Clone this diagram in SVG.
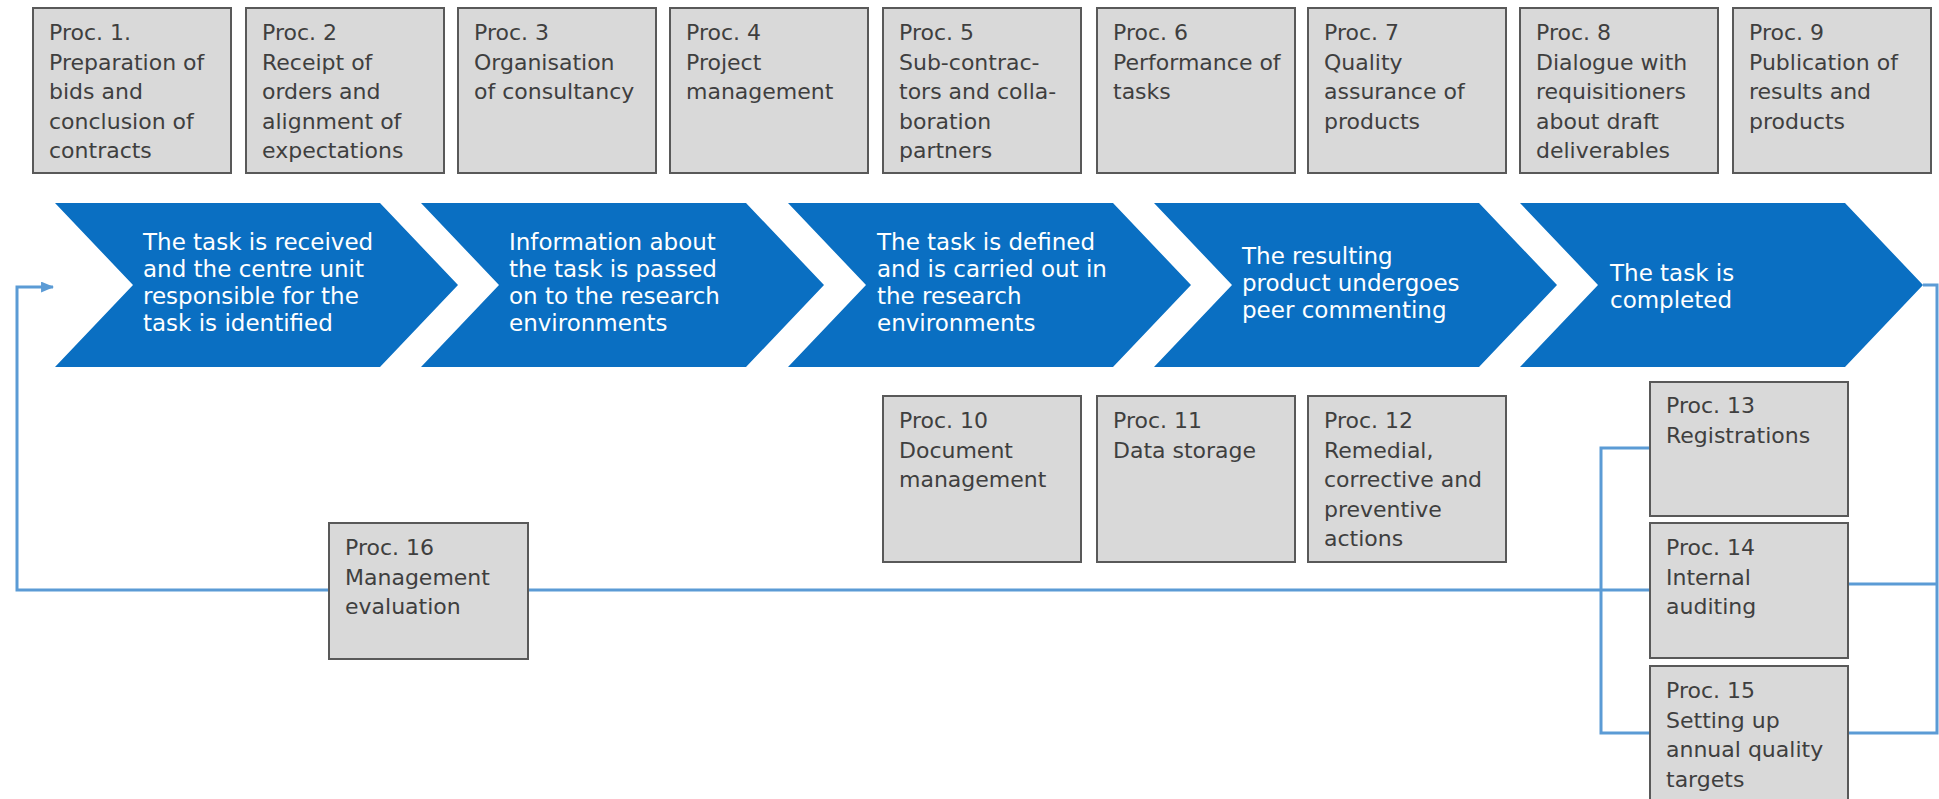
<svg xmlns="http://www.w3.org/2000/svg" width="1939" height="799" viewBox="0 0 1939 799">
  <defs>
    <style>
      .box { fill: #d9d9d9; stroke: #595959; stroke-width: 2; }
      .btxt { font-family: "DejaVu Sans", "Liberation Sans", sans-serif; font-size: 22px; fill: #3f3f3f; }
      .chev { fill: #0a6fc2; }
      .ctxt { font-family: "DejaVu Sans", "Liberation Sans", sans-serif; font-size: 23px; fill: #ffffff; }
      .link { fill: none; stroke: #5b9bd5; stroke-width: 3; }
    </style>
    <marker id="arrow" viewBox="0 0 12 10" refX="11" refY="5" markerWidth="13" markerHeight="11" markerUnits="userSpaceOnUse" orient="auto">
      <path d="M0,0 L12,5 L0,10 Z" fill="#5b9bd5"/>
    </marker>
  </defs>
  <rect width="1939" height="799" fill="#ffffff"/>

  <!-- connectors (drawn first so boxes sit on top of the lines) -->
  <g id="connectors">
    <path class="link" d="M1923,285 H1937 V733 H1848"/>
    <path class="link" d="M1937,584 H1848"/>
    <path class="link" d="M1650,448 H1601 V733 H1650"/>
    <path class="link" d="M1650,590 H17 V287 H53" marker-end="url(#arrow)"/>
  </g>

  <!-- process flow chevrons -->
  <g id="step1">
    <polygon class="chev" points="55,203 380,203 458,285 380,367 55,367 133,285"/>
    <text class="ctxt" y="250"><tspan x="143">The task is received</tspan><tspan x="143" dy="27">and the centre unit</tspan><tspan x="143" dy="27">responsible for the</tspan><tspan x="143" dy="27">task is identified</tspan></text>
  </g>
  <g id="step2">
    <polygon class="chev" points="421,203 746,203 824,285 746,367 421,367 499,285"/>
    <text class="ctxt" y="250"><tspan x="509">Information about</tspan><tspan x="509" dy="27">the task is passed</tspan><tspan x="509" dy="27">on to the research</tspan><tspan x="509" dy="27">environments</tspan></text>
  </g>
  <g id="step3">
    <polygon class="chev" points="788,203 1113,203 1191,285 1113,367 788,367 866,285"/>
    <text class="ctxt" y="250"><tspan x="877">The task is defined</tspan><tspan x="877" dy="27">and is carried out in</tspan><tspan x="877" dy="27">the research</tspan><tspan x="877" dy="27">environments</tspan></text>
  </g>
  <g id="step4">
    <polygon class="chev" points="1154,203 1479,203 1557,285 1479,367 1154,367 1232,285"/>
    <text class="ctxt" y="264"><tspan x="1242">The resulting</tspan><tspan x="1242" dy="27">product undergoes</tspan><tspan x="1242" dy="27">peer commenting</tspan></text>
  </g>
  <g id="step5">
    <polygon class="chev" points="1520,203 1845,203 1923,285 1845,367 1520,367 1598,285"/>
    <text class="ctxt" y="281"><tspan x="1610">The task is</tspan><tspan x="1610" dy="27">completed</tspan></text>
  </g>

  <!-- top row of procedures -->
  <g id="proc1">
    <rect class="box" x="33" y="8" width="198" height="165"/>
    <text class="btxt" y="40"><tspan x="49">Proc. 1.</tspan><tspan x="49" dy="29.5">Preparation of</tspan><tspan x="49" dy="29.5">bids and</tspan><tspan x="49" dy="29.5">conclusion of</tspan><tspan x="49" dy="29.5">contracts</tspan></text>
  </g>
  <g id="proc2">
    <rect class="box" x="246" y="8" width="198" height="165"/>
    <text class="btxt" y="40"><tspan x="262">Proc. 2</tspan><tspan x="262" dy="29.5">Receipt of</tspan><tspan x="262" dy="29.5">orders and</tspan><tspan x="262" dy="29.5">alignment of</tspan><tspan x="262" dy="29.5">expectations</tspan></text>
  </g>
  <g id="proc3">
    <rect class="box" x="458" y="8" width="198" height="165"/>
    <text class="btxt" y="40"><tspan x="474">Proc. 3</tspan><tspan x="474" dy="29.5">Organisation</tspan><tspan x="474" dy="29.5">of consultancy</tspan></text>
  </g>
  <g id="proc4">
    <rect class="box" x="670" y="8" width="198" height="165"/>
    <text class="btxt" y="40"><tspan x="686">Proc. 4</tspan><tspan x="686" dy="29.5">Project</tspan><tspan x="686" dy="29.5">management</tspan></text>
  </g>
  <g id="proc5">
    <rect class="box" x="883" y="8" width="198" height="165"/>
    <text class="btxt" y="40"><tspan x="899">Proc. 5</tspan><tspan x="899" dy="29.5">Sub-contrac-</tspan><tspan x="899" dy="29.5">tors and colla-</tspan><tspan x="899" dy="29.5">boration</tspan><tspan x="899" dy="29.5">partners</tspan></text>
  </g>
  <g id="proc6">
    <rect class="box" x="1097" y="8" width="198" height="165"/>
    <text class="btxt" y="40"><tspan x="1113">Proc. 6</tspan><tspan x="1113" dy="29.5">Performance of</tspan><tspan x="1113" dy="29.5">tasks</tspan></text>
  </g>
  <g id="proc7">
    <rect class="box" x="1308" y="8" width="198" height="165"/>
    <text class="btxt" y="40"><tspan x="1324">Proc. 7</tspan><tspan x="1324" dy="29.5">Quality</tspan><tspan x="1324" dy="29.5">assurance of</tspan><tspan x="1324" dy="29.5">products</tspan></text>
  </g>
  <g id="proc8">
    <rect class="box" x="1520" y="8" width="198" height="165"/>
    <text class="btxt" y="40"><tspan x="1536">Proc. 8</tspan><tspan x="1536" dy="29.5">Dialogue with</tspan><tspan x="1536" dy="29.5">requisitioners</tspan><tspan x="1536" dy="29.5">about draft</tspan><tspan x="1536" dy="29.5">deliverables</tspan></text>
  </g>
  <g id="proc9">
    <rect class="box" x="1733" y="8" width="198" height="165"/>
    <text class="btxt" y="40"><tspan x="1749">Proc. 9</tspan><tspan x="1749" dy="29.5">Publication of</tspan><tspan x="1749" dy="29.5">results and</tspan><tspan x="1749" dy="29.5">products</tspan></text>
  </g>

  <!-- support procedures below the flow -->
  <g id="proc10">
    <rect class="box" x="883" y="396" width="198" height="166"/>
    <text class="btxt" y="428"><tspan x="899">Proc. 10</tspan><tspan x="899" dy="29.5">Document</tspan><tspan x="899" dy="29.5">management</tspan></text>
  </g>
  <g id="proc11">
    <rect class="box" x="1097" y="396" width="198" height="166"/>
    <text class="btxt" y="428"><tspan x="1113">Proc. 11</tspan><tspan x="1113" dy="29.5">Data storage</tspan></text>
  </g>
  <g id="proc12">
    <rect class="box" x="1308" y="396" width="198" height="166"/>
    <text class="btxt" y="428"><tspan x="1324">Proc. 12</tspan><tspan x="1324" dy="29.5">Remedial,</tspan><tspan x="1324" dy="29.5">corrective and</tspan><tspan x="1324" dy="29.5">preventive</tspan><tspan x="1324" dy="29.5">actions</tspan></text>
  </g>
  <g id="proc13">
    <rect class="box" x="1650" y="382" width="198" height="134"/>
    <text class="btxt" y="413"><tspan x="1666">Proc. 13</tspan><tspan x="1666" dy="29.5">Registrations</tspan></text>
  </g>
  <g id="proc14">
    <rect class="box" x="1650" y="523" width="198" height="135"/>
    <text class="btxt" y="555"><tspan x="1666">Proc. 14</tspan><tspan x="1666" dy="29.5">Internal</tspan><tspan x="1666" dy="29.5">auditing</tspan></text>
  </g>
  <g id="proc15">
    <rect class="box" x="1650" y="666" width="198" height="140"/>
    <text class="btxt" y="698"><tspan x="1666">Proc. 15</tspan><tspan x="1666" dy="29.5">Setting up</tspan><tspan x="1666" dy="29.5">annual quality</tspan><tspan x="1666" dy="29.5">targets</tspan></text>
  </g>
  <g id="proc16">
    <rect class="box" x="329" y="523" width="199" height="136"/>
    <text class="btxt" y="555"><tspan x="345">Proc. 16</tspan><tspan x="345" dy="29.5">Management</tspan><tspan x="345" dy="29.5">evaluation</tspan></text>
  </g>
</svg>
